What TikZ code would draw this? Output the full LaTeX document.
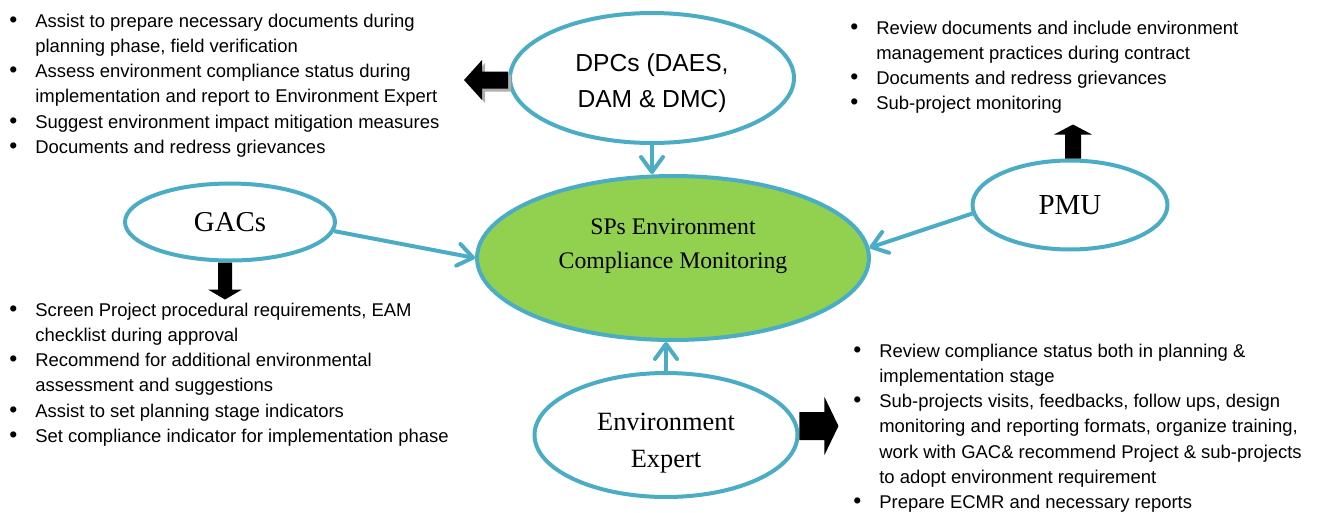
\documentclass[tikz,border=0pt]{standalone}
\usepackage{fontspec}
\setmainfont{Liberation Serif}
\setsansfont{Liberation Sans}
\usetikzlibrary{arrows.meta, shapes.geometric, calc}
\definecolor{ringblue}{RGB}{75, 172, 198}
\definecolor{coregreen}{RGB}{146, 208, 80}
\definecolor{shadegray}{RGB}{175, 175, 175}
% bullet cell for the task lists
\newcommand{\itm}{\makebox[0.52cm][l]{\fontsize{13}{13}\selectfont\textbullet}}

\begin{document}
\begin{tikzpicture}[x=0.02cm, y=-0.02cm,
    role/.style={ellipse, draw=ringblue, fill=white, line width=0.08cm,
                 inner sep=0pt, align=center},
    link/.style={draw=ringblue, line width=0.08cm,
                 -{Straight Barb[length=0.3cm, width=0.44cm, round]}},
    notes/.style={anchor=base west, inner sep=0pt,
                  font=\sffamily\fontsize{10.5}{14.4}\selectfont},
    % fat block arrow along +x: length, shaft half, head half, head length
    pics/fatarrow/.style n args={4}{code={
      \fill (0,-#2) -- (#1-#4,-#2) -- (#1-#4,-#3) -- (#1,0)
            -- (#1-#4,#3) -- (#1-#4,#2) -- (0,#2) -- cycle;}}]
  \useasboundingbox (0,0) rectangle (1322,512);

  % actors
  \node[role, minimum width=5.68cm, minimum height=2.6cm,
        font=\sffamily\fontsize{14}{20.4}\selectfont] (dpc) at (652,78)
    {\raisebox{-0.08cm}[\height][\depth]{\begin{tabular}{@{}c@{}}
       DPCs (DAES,\\DAM \& DMC)\end{tabular}}};
  \node[role, fill=coregreen, minimum width=7.84cm, minimum height=3.28cm,
        font=\fontsize{13.5}{19.3}\selectfont] (core) at (673,258)
    {\raisebox{0.26cm}[\height][\depth]{\begin{tabular}{@{}c@{}}
       SPs Environment\\Compliance Monitoring\end{tabular}}};
  \node[role, minimum width=4.2cm, minimum height=1.54cm,
        font=\fontsize{16.4}{20}\selectfont] (gac) at (230,222) {GACs};
  \node[role, minimum width=3.9cm, minimum height=1.78cm,
        font=\fontsize{16.5}{20}\selectfont] (pmu) at (1070,205) {PMU};
  \node[role, minimum width=5.26cm, minimum height=2.48cm,
        font=\fontsize{15}{21}\selectfont] (expert) at (666,435)
    {\raisebox{-0.14cm}[\height][\depth]{\begin{tabular}{@{}c@{}}
       Environment\\Expert\end{tabular}}};

  % reporting lines into the monitoring
  \draw[link] (dpc.south) -- (dpc.south |- core.north);
  \draw[link] (gac.-5) -- (core.west);
  \draw[link] (pmu.185) -- (core.3);
  \draw[link] (expert.north) -- (expert.north |- core.south);

  % block arrows to the task lists
  \pic[shadegray, rotate=180] at ($(dpc.west)+(3,5)$) {fatarrow={44}{8.5}{20}{18}};
  \pic[black, rotate=180] at ([yshift=-0.04cm]dpc.west) {fatarrow={44}{8.5}{20}{18}};
  \pic[black, rotate=-90] at ([xshift=-0.1cm]gac.south) {fatarrow={37}{7}{17}{10}};
  \pic[black, rotate=90] at ([xshift=0.06cm]pmu.north) {fatarrow={34}{8}{19}{10}};
  \pic[black] at ([yshift=0.18cm]expert.east) {fatarrow={39}{14}{29}{14}};

  % task lists
  \node[notes] (dpcnotes) at (9,27) {\begin{tabular}[t]{@{}l@{}l@{}}
    \itm & Assist to prepare necessary documents during\\
         & planning phase, field verification\\
    \itm & Assess environment compliance status during\\
         & implementation and report to Environment Expert\\
    \itm & Suggest environment impact mitigation measures\\
    \itm & Documents and redress grievances
  \end{tabular}};
  \node[notes] (pmunotes) at (850,34) {\begin{tabular}[t]{@{}l@{}l@{}}
    \itm & Review documents and include environment\\
         & management practices during contract\\
    \itm & Documents and redress grievances\\
    \itm & Sub-project monitoring
  \end{tabular}};
  \node[notes] (gacnotes) at (9,316) {\begin{tabular}[t]{@{}l@{}l@{}}
    \itm & Screen Project procedural requirements, EAM\\
         & checklist during approval\\
    \itm & Recommend for additional environmental\\
         & assessment and suggestions\\
    \itm & Assist to set planning stage indicators\\
    \itm & Set compliance indicator for implementation phase
  \end{tabular}};
  \node[notes] (expertnotes) at (853,357) {\begin{tabular}[t]{@{}l@{}l@{}}
    \itm & Review compliance status both in planning \&\\
         & implementation stage\\
    \itm & Sub-projects visits, feedbacks, follow ups, design\\
         & monitoring and reporting formats, organize training,\\
         & work with GAC\& recommend Project \& sub-projects\\
         & to adopt environment requirement\\
    \itm & Prepare ECMR and necessary reports
  \end{tabular}};
\end{tikzpicture}
\end{document}
